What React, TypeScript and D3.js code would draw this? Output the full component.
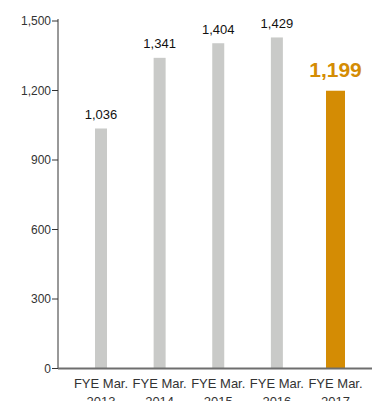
import React from "react";
import * as d3 from "d3";

const categories = ["2013", "2014", "2015", "2016", "2017"];
const values = [1036, 1341, 1404, 1429, 1199];
const yTicks = [0, 300, 600, 900, 1200, 1500];

const W = 372;
const H = 401;
const axisX = 58;
const baseY = 368.5;
const topY = 21;

export default function App() {
  const y = d3.scaleLinear().domain([0, 1500]).range([baseY, topY]);
  const x = d3.scalePoint<string>().domain(categories).range([101, 335.5]);
  const fmt = d3.format(",");
  const font = "'Liberation Sans', Arial, sans-serif";
  const last = categories.length - 1;

  return (
    <svg width={W} height={H} style={{ position: "absolute", left: 0, top: 0 }}>
      <rect width={W} height={H} fill="#fff" />
      {categories.map((c, i) => {
        const bw = i === last ? 19 : 12;
        const cx = x(c)!;
        return (
          <rect
            key={c}
            x={cx - bw / 2}
            y={y(values[i])}
            width={bw}
            height={baseY - y(values[i])}
            fill={i === last ? "#d48c04" : "#c9cac8"}
          />
        );
      })}
      <line x1={axisX} x2={axisX} y1={topY - 2} y2={baseY} stroke="#333" strokeWidth={1} />
      <line x1={axisX} x2={W} y1={baseY} y2={baseY} stroke="#6e6e6e" strokeWidth={2} />
      {yTicks.map((t) => (
        <g key={t}>
          <line x1={axisX - 6} x2={axisX} y1={y(t)} y2={y(t)} stroke="#333" strokeWidth={1} />
          <text
            x={axisX - 7}
            y={y(t)}
            dy="0.35em"
            textAnchor="end"
            fontFamily={font}
            fontSize={12}
            fill="#333"
          >
            {fmt(t)}
          </text>
        </g>
      ))}
      {categories.map((c) => (
        <g key={"l" + c}>
          <text x={x(c)!} y={388} textAnchor="middle" fontFamily={font} fontSize={13} fill="#333">
            FYE Mar.
          </text>
          <text x={x(c)!} y={406} textAnchor="middle" fontFamily={font} fontSize={13} fill="#333">
            {c}
          </text>
        </g>
      ))}
      {categories.map((c, i) =>
        i === last ? (
          <text
            key={"v" + c}
            x={x(c)!}
            y={y(values[i]) - 14}
            textAnchor="middle"
            fontFamily={font}
            fontSize={21}
            fontWeight="bold"
            fill="#d48c04"
          >
            {fmt(values[i])}
          </text>
        ) : (
          <text
            key={"v" + c}
            x={x(c)!}
            y={y(values[i]) - 9.5}
            textAnchor="middle"
            fontFamily={font}
            fontSize={13}
            fill="#111"
          >
            {fmt(values[i])}
          </text>
        )
      )}
    </svg>
  );
}
